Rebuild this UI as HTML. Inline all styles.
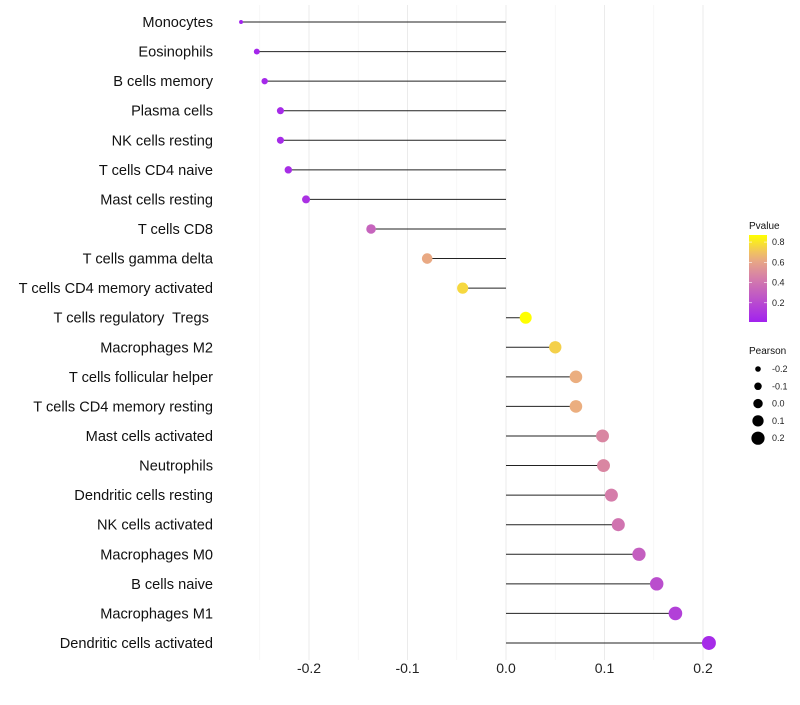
<!DOCTYPE html>
<html><head><meta charset="utf-8"><style>
body{margin:0;background:#fff;font-family:"Liberation Sans",sans-serif;}
svg text{font-family:"Liberation Sans",sans-serif;white-space:pre;}
</style></head><body>
<svg id="chart" width="800" height="700"></svg>
<script>
const categories=["Monocytes","Eosinophils","B cells memory","Plasma cells","NK cells resting","T cells CD4 naive","Mast cells resting","T cells CD8","T cells gamma delta","T cells CD4 memory activated","T cells regulatory  Tregs ","Macrophages M2","T cells follicular helper","T cells CD4 memory resting","Mast cells activated","Neutrophils","Dendritic cells resting","NK cells activated","Macrophages M0","B cells naive","Macrophages M1","Dendritic cells activated"];
const pearson=[-0.269,-0.253,-0.245,-0.229,-0.229,-0.221,-0.203,-0.137,-0.080,-0.044,0.020,0.050,0.071,0.071,0.098,0.099,0.107,0.114,0.135,0.153,0.172,0.206];
const pvalue=[0.02,0.03,0.04,0.05,0.05,0.06,0.08,0.32,0.62,0.76,0.87,0.74,0.64,0.64,0.48,0.48,0.44,0.40,0.30,0.22,0.15,0.05];
const xTicks=[-0.2,-0.1,0.0,0.1,0.2];
const pTicks=[0.2,0.4,0.6,0.8];
const sizeTicks=[-0.2,-0.1,0.0,0.1,0.2];

const NS="http://www.w3.org/2000/svg";
const svg=document.getElementById('chart');
function mk(t,a,parent){const e=document.createElementNS(NS,t);for(const k in a)e.setAttribute(k,a[k]);(parent||svg).appendChild(e);return e;}
const x=v=>506+v*985;
const y=i=>22+i*29.57;
const pMin=0.01,pMax=0.87;
function lerp(a,b,t){return Math.round(a+(b-a)*t);}
function color(p){
  const stops=[[0,[160,32,240]],[0.45,[214,127,168]],[0.65,[236,176,125]],[0.87,[255,255,0]]];
  let t=Math.max(0,Math.min(0.87,p));
  for(let i=0;i<stops.length-1;i++){const[a,ca]=stops[i],[b,cb]=stops[i+1];if(t<=b){const f=(t-a)/(b-a);return`rgb(${lerp(ca[0],cb[0],f)},${lerp(ca[1],cb[1],f)},${lerp(ca[2],cb[2],f)})`;}}
  return'rgb(255,255,0)';
}
const sMin=-0.27,sMax=0.21;
function rad(v){const f=Math.max(0,(v-sMin)/(sMax-sMin));return 1.5+5.5*Math.pow(f,0.4);}

for(let v=-0.25;v<=0.2001;v+=0.05){
  const major=Math.abs(Math.round(v*10)-v*10)<1e-6;
  const g=mk('line',{x1:x(v),x2:x(v),y1:5,y2:660,stroke:major?'#ebebeb':'#f3f3f3','stroke-width':major?1:0.6});
  
  
}
xTicks.forEach(v=>{
  const t=mk('text',{x:x(v),y:673,'text-anchor':'middle','font-size':14,fill:'#222'});
  t.textContent=v.toFixed(1);
  
  
});
categories.forEach((c,i)=>{
  const t=mk('text',{x:213,y:y(i)+5,'text-anchor':'end','font-size':14.6,fill:'#111'});
  t.textContent=c;
  
  
  const l=mk('line',{x1:x(0),x2:x(pearson[i]),y1:y(i),y2:y(i),stroke:'#222','stroke-width':1});
  
  
  const p=mk('circle',{cx:x(pearson[i]),cy:y(i),r:rad(pearson[i]),fill:color(pvalue[i])});
  
  
});
const lt=mk('text',{x:749,y:229,'font-size':10,fill:'#111'});lt.textContent='Pvalue';


const defs=mk('defs',{});
const grad=mk('linearGradient',{id:'pg',x1:0,y1:1,x2:0,y2:0},defs);
for(let k=0;k<=10;k++){const p=pMin+(pMax-pMin)*k/10;mk('stop',{offset:k/10,'stop-color':color(p)},grad);}
const bar=mk('rect',{x:749,y:235,width:18,height:87,fill:'url(#pg)'});


const py=p=>322-(p-pMin)/(pMax-pMin)*87;
pTicks.forEach(p=>{
  mk('line',{x1:749,x2:752,y1:py(p),y2:py(p),stroke:'#fff','stroke-width':0.6});
  mk('line',{x1:764,x2:767,y1:py(p),y2:py(p),stroke:'#fff','stroke-width':0.6});
  const t=mk('text',{x:772,y:py(p)+3,'font-size':9,fill:'#222'});t.textContent=p.toFixed(1);
  
  
});
const st=mk('text',{x:749,y:354,'font-size':10,fill:'#111'});st.textContent='Pearson';


sizeTicks.forEach((v,k)=>{
  const cy=369+k*17.3;
  const c=mk('circle',{cx:758,cy:cy,r:2.8+k*0.95,fill:'#000'});
  
  
  const t=mk('text',{x:772,y:cy+3,'font-size':9,fill:'#222'});t.textContent=v.toFixed(1);
  
  
});
</script>
</body></html>
